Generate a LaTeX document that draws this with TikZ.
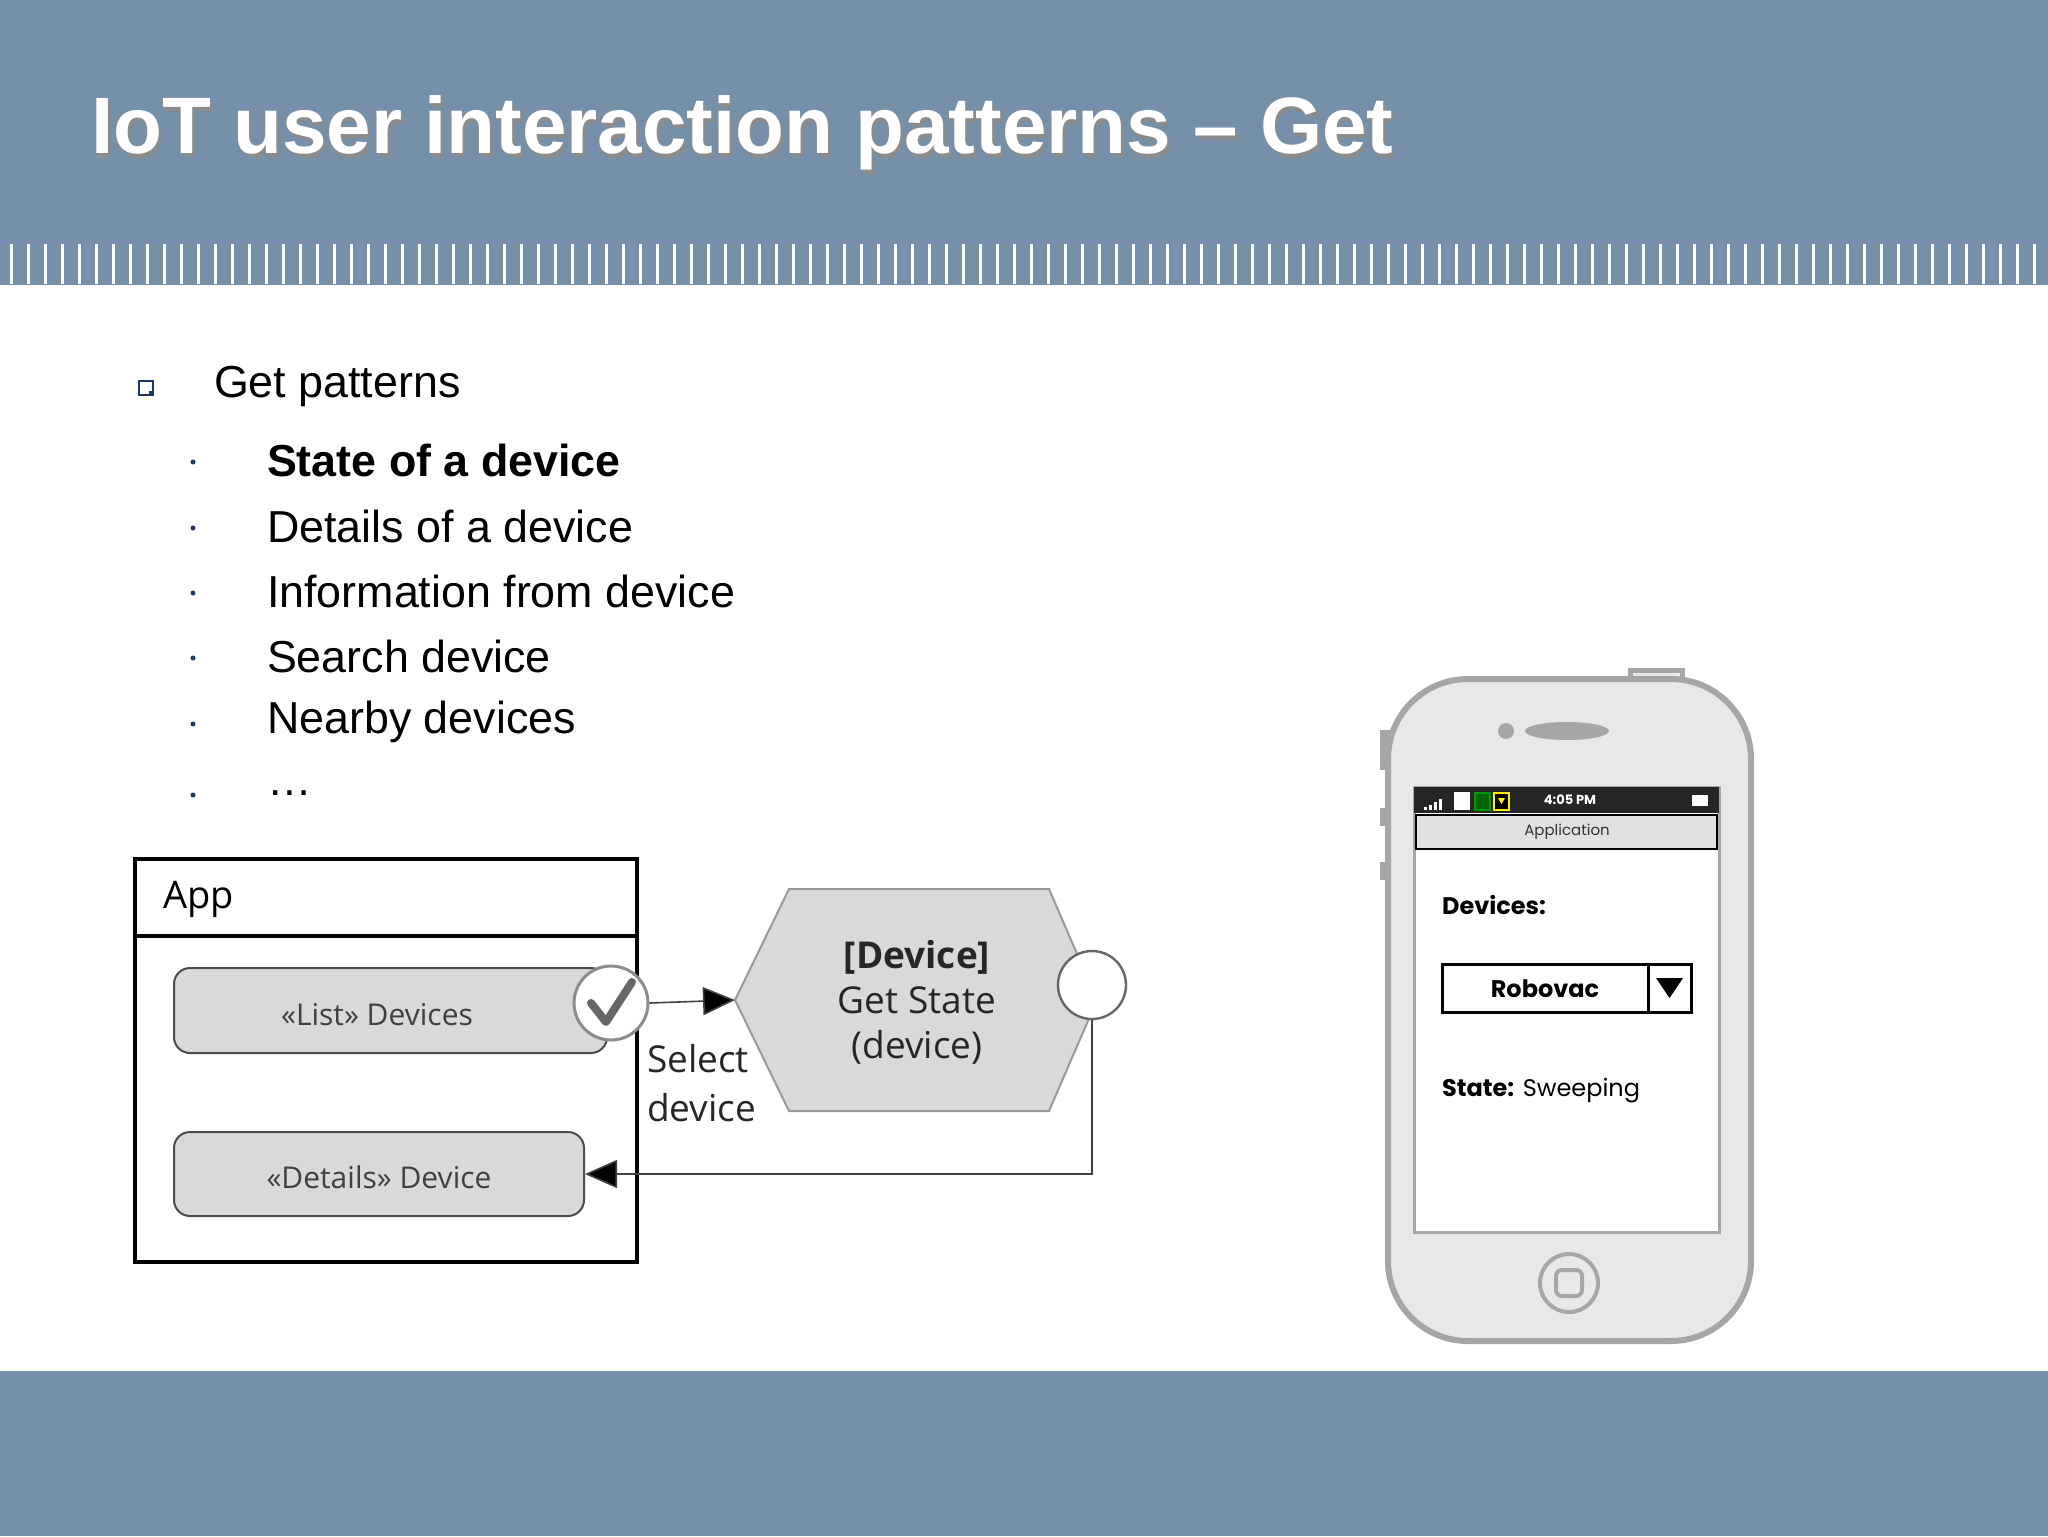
\documentclass[tikz,border=0pt]{standalone}
\usepackage{fontspec}
\setmainfont{Liberation Sans}
\newfontfamily\diag{Open Sans}
\newfontfamily\phonef{Poppins}
\usetikzlibrary{arrows.meta,shapes.geometric}
\definecolor{hdr}{RGB}{117,144,168}
\definecolor{btn}{RGB}{217,217,217}
\definecolor{pgray}{RGB}{166,166,166}
\definecolor{pfill}{RGB}{232,232,232}
\definecolor{bul}{RGB}{31,56,100}
\begin{document}
\begin{tikzpicture}[x=0.5pt,y=-0.5pt,
  btnsty/.style={draw=black!70,fill=btn,rounded corners=8pt,line width=1pt},
  dtext/.style={font=\diag\fontsize{15}{18}\selectfont,text=black!75},
  item/.style={anchor=west,font=\fontsize{22.4}{26}\selectfont},
  dot/.style={circle,fill=bul,inner sep=0pt,minimum size=2.5pt},
  arr/.style={-{Triangle[length=16pt,width=14pt,fill=black]},line width=0.8pt,draw=black!75}]
\useasboundingbox (0,0) rectangle (2048,1536);
\fill[white] (0,0) rectangle (2048,1536);
% header
\fill[hdr] (0,0) rectangle (2048,285);
\foreach \i in {0,...,119} {\fill[white] (10+17*\i,244) rectangle (13+17*\i,284);}
\fill[hdr] (0,1371) rectangle (2048,1536);
\node[anchor=base west,text=black!45,font=\bfseries\fontsize{40}{46}\selectfont] at (87,157) {IoT user interaction patterns – Get};
\node[anchor=base west,text=white,font=\bfseries\fontsize{40}{46}\selectfont] (title) at (84,154) {IoT user interaction patterns – Get};
% bullets
\node[draw=bul,line width=1pt,fill=white,minimum size=7pt,inner sep=0pt,fill=white] (sq) at (146,388) {};
\fill[bul] (149,391) rectangle (152,394);
\node[item] (g) at (207,387) {Get patterns};
\foreach \y/\t/\n in {458/\textbf{State of a device}/a,524/Details of a device/b,589/Information from device/c,654/Search device/d,720/Nearby devices/e,791/\dots/f}{
  \node[dot] (d\n) at (193,\y+4) {};
  \node[item] (t\n) at (260,\y+2) {\t};
}
% App box
\draw[line width=1.6pt] (135,859) rectangle (637,1262);
\draw[line width=1.6pt] (135,936) -- (637,936);
\node[anchor=west,font=\diag\fontsize{19}{24}\selectfont] (app) at (156,899) {App};
\node[btnsty,minimum width=433pt*0.5,minimum height=85pt*0.5] (list) at (390.5,1010.5) {};
\node[dtext] at (377,1015) {«List» Devices};
\node[btnsty,minimum width=410pt*0.5,minimum height=84pt*0.5] (det) at (379,1174) {};
\node[dtext] at (379,1177) {«Details» Device};
\node[circle,draw=black!45,fill=white,line width=1.5pt,minimum size=37pt] (chk) at (611,1003) {};
\draw[black!60,line width=4pt,line cap=round,line join=round] (591,1003) -- (606,1022) -- (632,982);
% hexagon
\draw[draw=black!40,fill=btn,line width=1pt] (735,1000) -- (789,889) -- (1049,889) -- (1097,1000) -- (1049,1111) -- (789,1111) -- cycle;
\coordinate (hexl) at (735,1000);
\node[align=center,font=\diag\fontsize{18.5}{22.5}\selectfont,text=black!85] (hex) at (917,1002) {\textbf{[Device]}\\Get State\\(device)};
\node[circle,draw=black!60,fill=white,line width=1.2pt,minimum size=34pt] (out) at (1092,985) {};
\draw[arr] (chk.east) -- (hexl);
\coordinate (corner) at (1092,1174);
\draw[arr] (out.south) -- (corner) -- (det.east);
\node[anchor=north west,align=left,font=\diag\fontsize{18.5}{24.5}\selectfont,text=black!85] (sel) at (640,1037) {Select\\device};
% phone
\fill[pfill,draw=pgray,line width=2.5pt] (1630,679) rectangle (1682,670);
\foreach \a/\b in {730/770,808/826,862/880}{\fill[pgray] (1380,\a) rectangle (1392,\b);}
\draw[pgray,fill=pfill,line width=3pt,rounded corners=40pt] (1388,679) rectangle (1751,1341);
\node[circle,fill=pgray,minimum size=8pt,inner sep=0pt] (cam) at (1506,731) {};
\node[ellipse,fill=pgray,minimum width=42pt,minimum height=9pt,inner sep=0pt] (spk) at (1567,731) {};
\fill[white,draw=pgray,line width=1.5pt] (1414,787) rectangle (1719,1232);
\fill[black!85] (1414,787) rectangle (1719,813);
\draw[black,fill=btn!80,line width=1.2pt] (1416,815) rectangle (1717,849);
\node[font=\phonef\fontsize{7.5}{8}\selectfont,text=black!80] (apl) at (1567,832) {Application};
\node[font=\phonef\bfseries\fontsize{6.5}{7}\selectfont,text=white] (tm) at (1570,800) {4:05 PM};
\foreach \i/\h in {0/3,1/5,2/8,3/11}{\fill[white] (1424+5*\i,810) rectangle (1427+5*\i,810-\h);}
\fill[white] (1454,792) rectangle (1470,810);
\draw[green!60!black,fill=green!40!black,line width=1pt] (1475,793) rectangle (1490,810);
\draw[yellow,fill=black,line width=1pt] (1494,793) rectangle (1509,810);
\fill[yellow] (1498,798) -- (1505,798) -- (1501.5,804) -- cycle;
\fill[white] (1692,795) rectangle (1708,806);
\node[anchor=west,font=\phonef\bfseries\fontsize{12}{14}\selectfont] (devs) at (1435,905) {Devices:};
\draw[line width=1.5pt] (1442,964) rectangle (1691,1012);
\draw[line width=1.5pt] (1648,964) -- (1648,1012);
\fill (1656,978) -- (1683,978) -- (1669.5,998) -- cycle;
\node[font=\phonef\bfseries\fontsize{12}{14}\selectfont] (robo) at (1545,989) {Robovac};
\node[anchor=west,font=\phonef\fontsize{12}{14}\selectfont] (st) at (1435,1091) {\textbf{State:} Sweeping};
\node[circle,draw=pgray,line width=2pt,minimum size=29pt] (home) at (1569,1283) {};
\draw[pgray,line width=2pt,rounded corners=3pt] (1556,1270) rectangle (1582,1296);
\end{tikzpicture}
\end{document}
